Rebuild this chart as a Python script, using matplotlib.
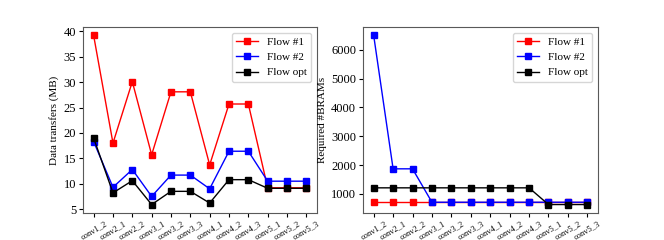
import matplotlib
matplotlib.use("Agg")
import matplotlib.pyplot as plt

plt.rcParams['font.family'] = ['Liberation Serif', 'DejaVu Serif']

layers = ["conv1_2", "conv2_1", "conv2_2", "conv3_1", "conv3_2", "conv3_3",
          "conv4_1", "conv4_2", "conv4_3", "conv5_1", "conv5_2", "conv5_3"]

dt_flow1 = [39.2, 18.0, 30.1, 15.7, 28.1, 28.1, 13.7, 25.7, 25.7, 9.2, 9.2, 9.2]
dt_flow2 = [18.3, 9.3, 12.8, 7.5, 11.7, 11.7, 9.0, 16.4, 16.4, 10.5, 10.5, 10.5]
dt_opt = [19.0, 8.2, 10.6, 5.9, 8.5, 8.5, 6.2, 10.8, 10.8, 9.1, 9.1, 9.1]

br_flow1 = [710, 710, 710, 710, 710, 710, 710, 710, 710, 710, 710, 710]
br_flow2 = [6500, 1870, 1870, 710, 710, 710, 710, 710, 710, 710, 710, 710]
br_opt = [1210, 1210, 1210, 1210, 1210, 1210, 1210, 1210, 1210, 630, 630, 630]

fig = plt.figure(figsize=(6.64, 2.4), dpi=100)
ax1 = fig.add_axes([83/664, 1-213/240, 234/664, 186/240])
ax2 = fig.add_axes([363/664, 1-213/240, 235/664, 186/240])

x = list(range(len(layers)))
ms = 4
for ax, s1, s2, s3, ylabel in [(ax1, dt_flow1, dt_flow2, dt_opt, "Data transfers (MB)"),
                                (ax2, br_flow1, br_flow2, br_opt, "Required #BRAMs")]:
    ax.plot(x, s1, color='red', marker='s', markersize=ms, linewidth=1.0, label='Flow #1')
    ax.plot(x, s2, color='blue', marker='s', markersize=ms, linewidth=1.0, label='Flow #2')
    ax.plot(x, s3, color='black', marker='s', markersize=ms, linewidth=1.0, label='Flow opt')
    ax.set_xticks(x)
    ax.set_xticklabels(layers, rotation=30, fontsize=6)
    ax.tick_params(axis='x', length=3, pad=2)
    ax.tick_params(axis='y', labelsize=9, length=3, pad=2)
    ax.set_ylabel(ylabel, fontsize=8, labelpad=3)
    ax.legend(loc='upper right', fontsize=8)
    for sp in ax.spines.values():
        sp.set_color('0.35')

ax1.set_yticks([5, 10, 15, 20, 25, 30, 35, 40])
ax2.set_yticks([1000, 2000, 3000, 4000, 5000, 6000])

fig.savefig("out.png", dpi=100)
